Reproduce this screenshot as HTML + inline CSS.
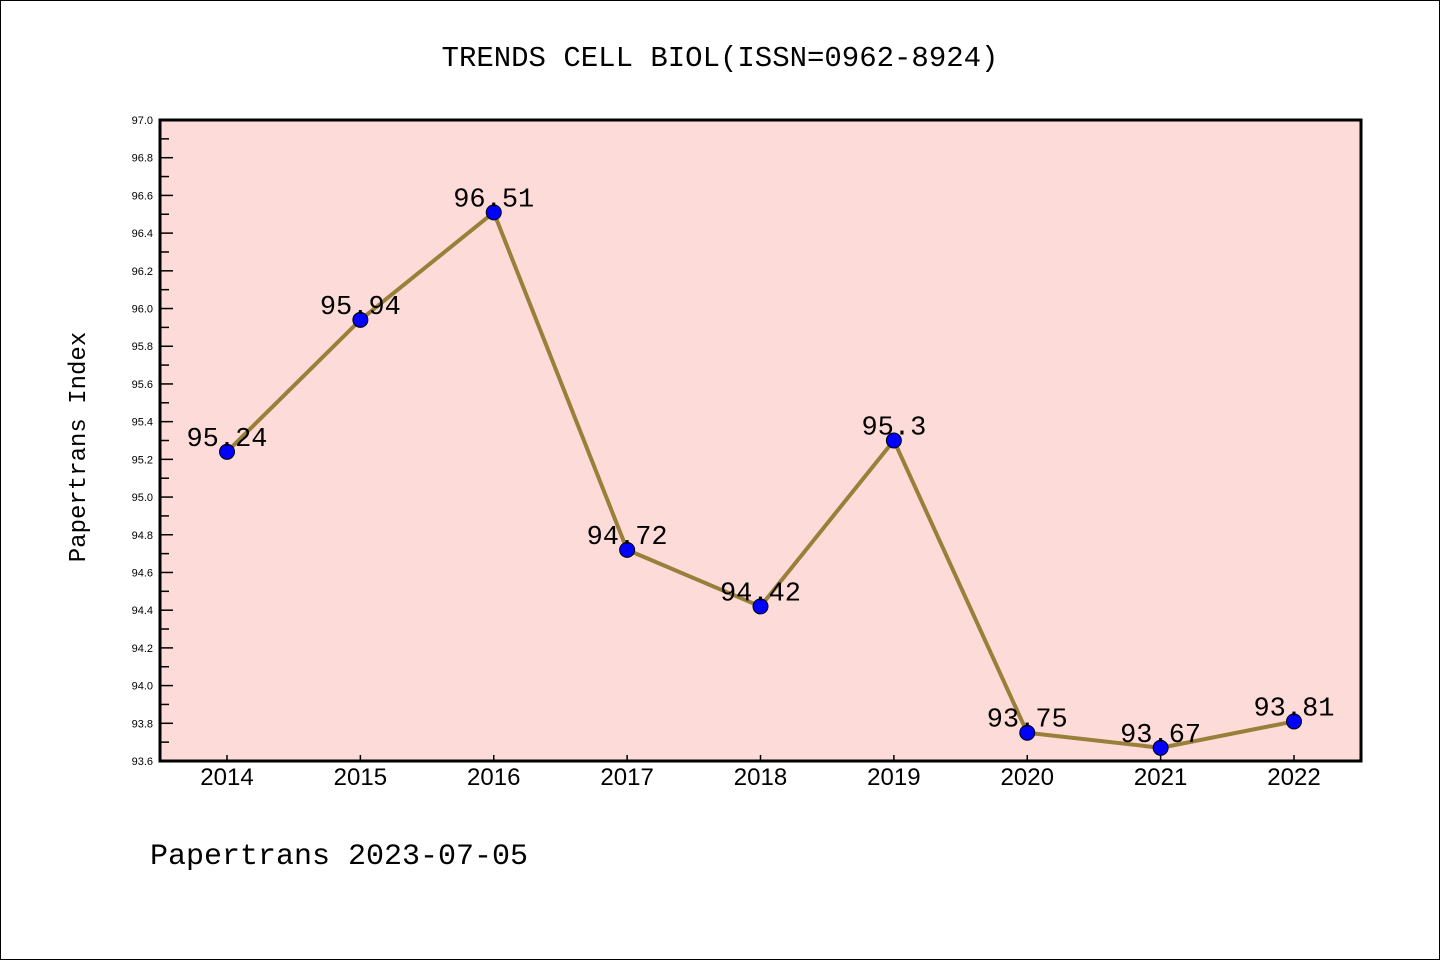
<!DOCTYPE html>
<html><head><meta charset="utf-8"><style>
html,body{margin:0;padding:0;background:#fff}
svg{display:block;font-family:"Liberation Sans","WenQuanYi Zen Hei",sans-serif}
.mono{font-family:"Liberation Mono","WenQuanYi Zen Hei",monospace}
</style></head><body>
<svg id="c" width="1440" height="960" xmlns="http://www.w3.org/2000/svg">
<rect x="0.5" y="0.5" width="1439" height="959" fill="#fff" stroke="#000"/>
<text class="mono" x="720" y="66" text-anchor="middle" font-size="29">TRENDS CELL BIOL(ISSN=0962-8924)</text>
<rect x="160" y="120" width="1201" height="641" fill="#fddbd8"/>
<g id="axes"></g>
<g id="marks"></g>
<rect x="160" y="120" width="1201" height="641" fill="none" stroke="#000" stroke-width="3"/>
<text class="mono" transform="translate(85,447) rotate(-90)" text-anchor="middle" font-size="24">Papertrans Index</text>
<text class="mono" x="150" y="864" font-size="30">Papertrans 2023-07-05</text>
</svg>
<script>
const years = ["2014","2015","2016","2017","2018","2019","2020","2021","2022"];
const values = [95.24,95.94,96.51,94.72,94.42,95.3,93.75,93.67,93.81];
const valueLabels = ["95.24","95.94","96.51","94.72","94.42","95.3","93.75","93.67","93.81"];
const yTicks = ["93.6","93.8","94.0","94.2","94.4","94.6","94.8","95.0","95.2","95.4","95.6","95.8","96.0","96.2","96.4","96.6","96.8","97.0"];
const NS="http://www.w3.org/2000/svg";
const yMin=93.6,yMax=97.0,plotTop=120,plotBot=761;
const yScale=v=>plotBot-(v-yMin)/(yMax-yMin)*(plotBot-plotTop);
const xScale=i=>227+i*(1294-227)/(years.length-1);
function mk(t,a,p){const e=document.createElementNS(NS,t);for(const k in a)e.setAttribute(k,a[k]);p.appendChild(e);return e;}
const axesG=document.getElementById('axes'),marksG=document.getElementById('marks');
yTicks.forEach((t,i)=>{
  const v=parseFloat(t),yy=yScale(v);
  const l=mk('line',{x1:160,x2:173,y1:yy,y2:yy,stroke:'#000','stroke-width':1.5},axesG);
  
  
  const tx=mk('text',{x:153,y:yy+4,'text-anchor':'end','font-size':11},axesG);
  
  
  tx.textContent=t;
  if(i<yTicks.length-1){
    const ym=yScale(v+0.1);
    const m=mk('line',{x1:160,x2:169,y1:ym,y2:ym,stroke:'#000','stroke-width':1.5},axesG);
    
    
  }
});
years.forEach((yr,i)=>{
  const l=mk('line',{x1:xScale(i),x2:xScale(i),y1:plotBot,y2:plotBot-6,stroke:'#000','stroke-width':1.5},axesG);
  
  
  const t=mk('text',{x:xScale(i),y:785,'text-anchor':'middle','font-size':24},axesG);
  
  
  t.textContent=yr;
});
const pl=mk('polyline',{points:values.map((v,i)=>xScale(i)+','+yScale(v)).join(' '),fill:'none',stroke:'#9a7f3a','stroke-width':4},marksG);


values.forEach((v,i)=>{
  const c=mk('circle',{cx:xScale(i),cy:yScale(v),r:7.5,fill:'#0000ff',stroke:'#000','stroke-width':1},marksG);
  
  
  const t=mk('text',{x:xScale(i),y:yScale(v)-6,'text-anchor':'middle','font-size':27,'class':'mono'},marksG);
  
  
  t.textContent=valueLabels[i];
});
</script>
</body></html>
